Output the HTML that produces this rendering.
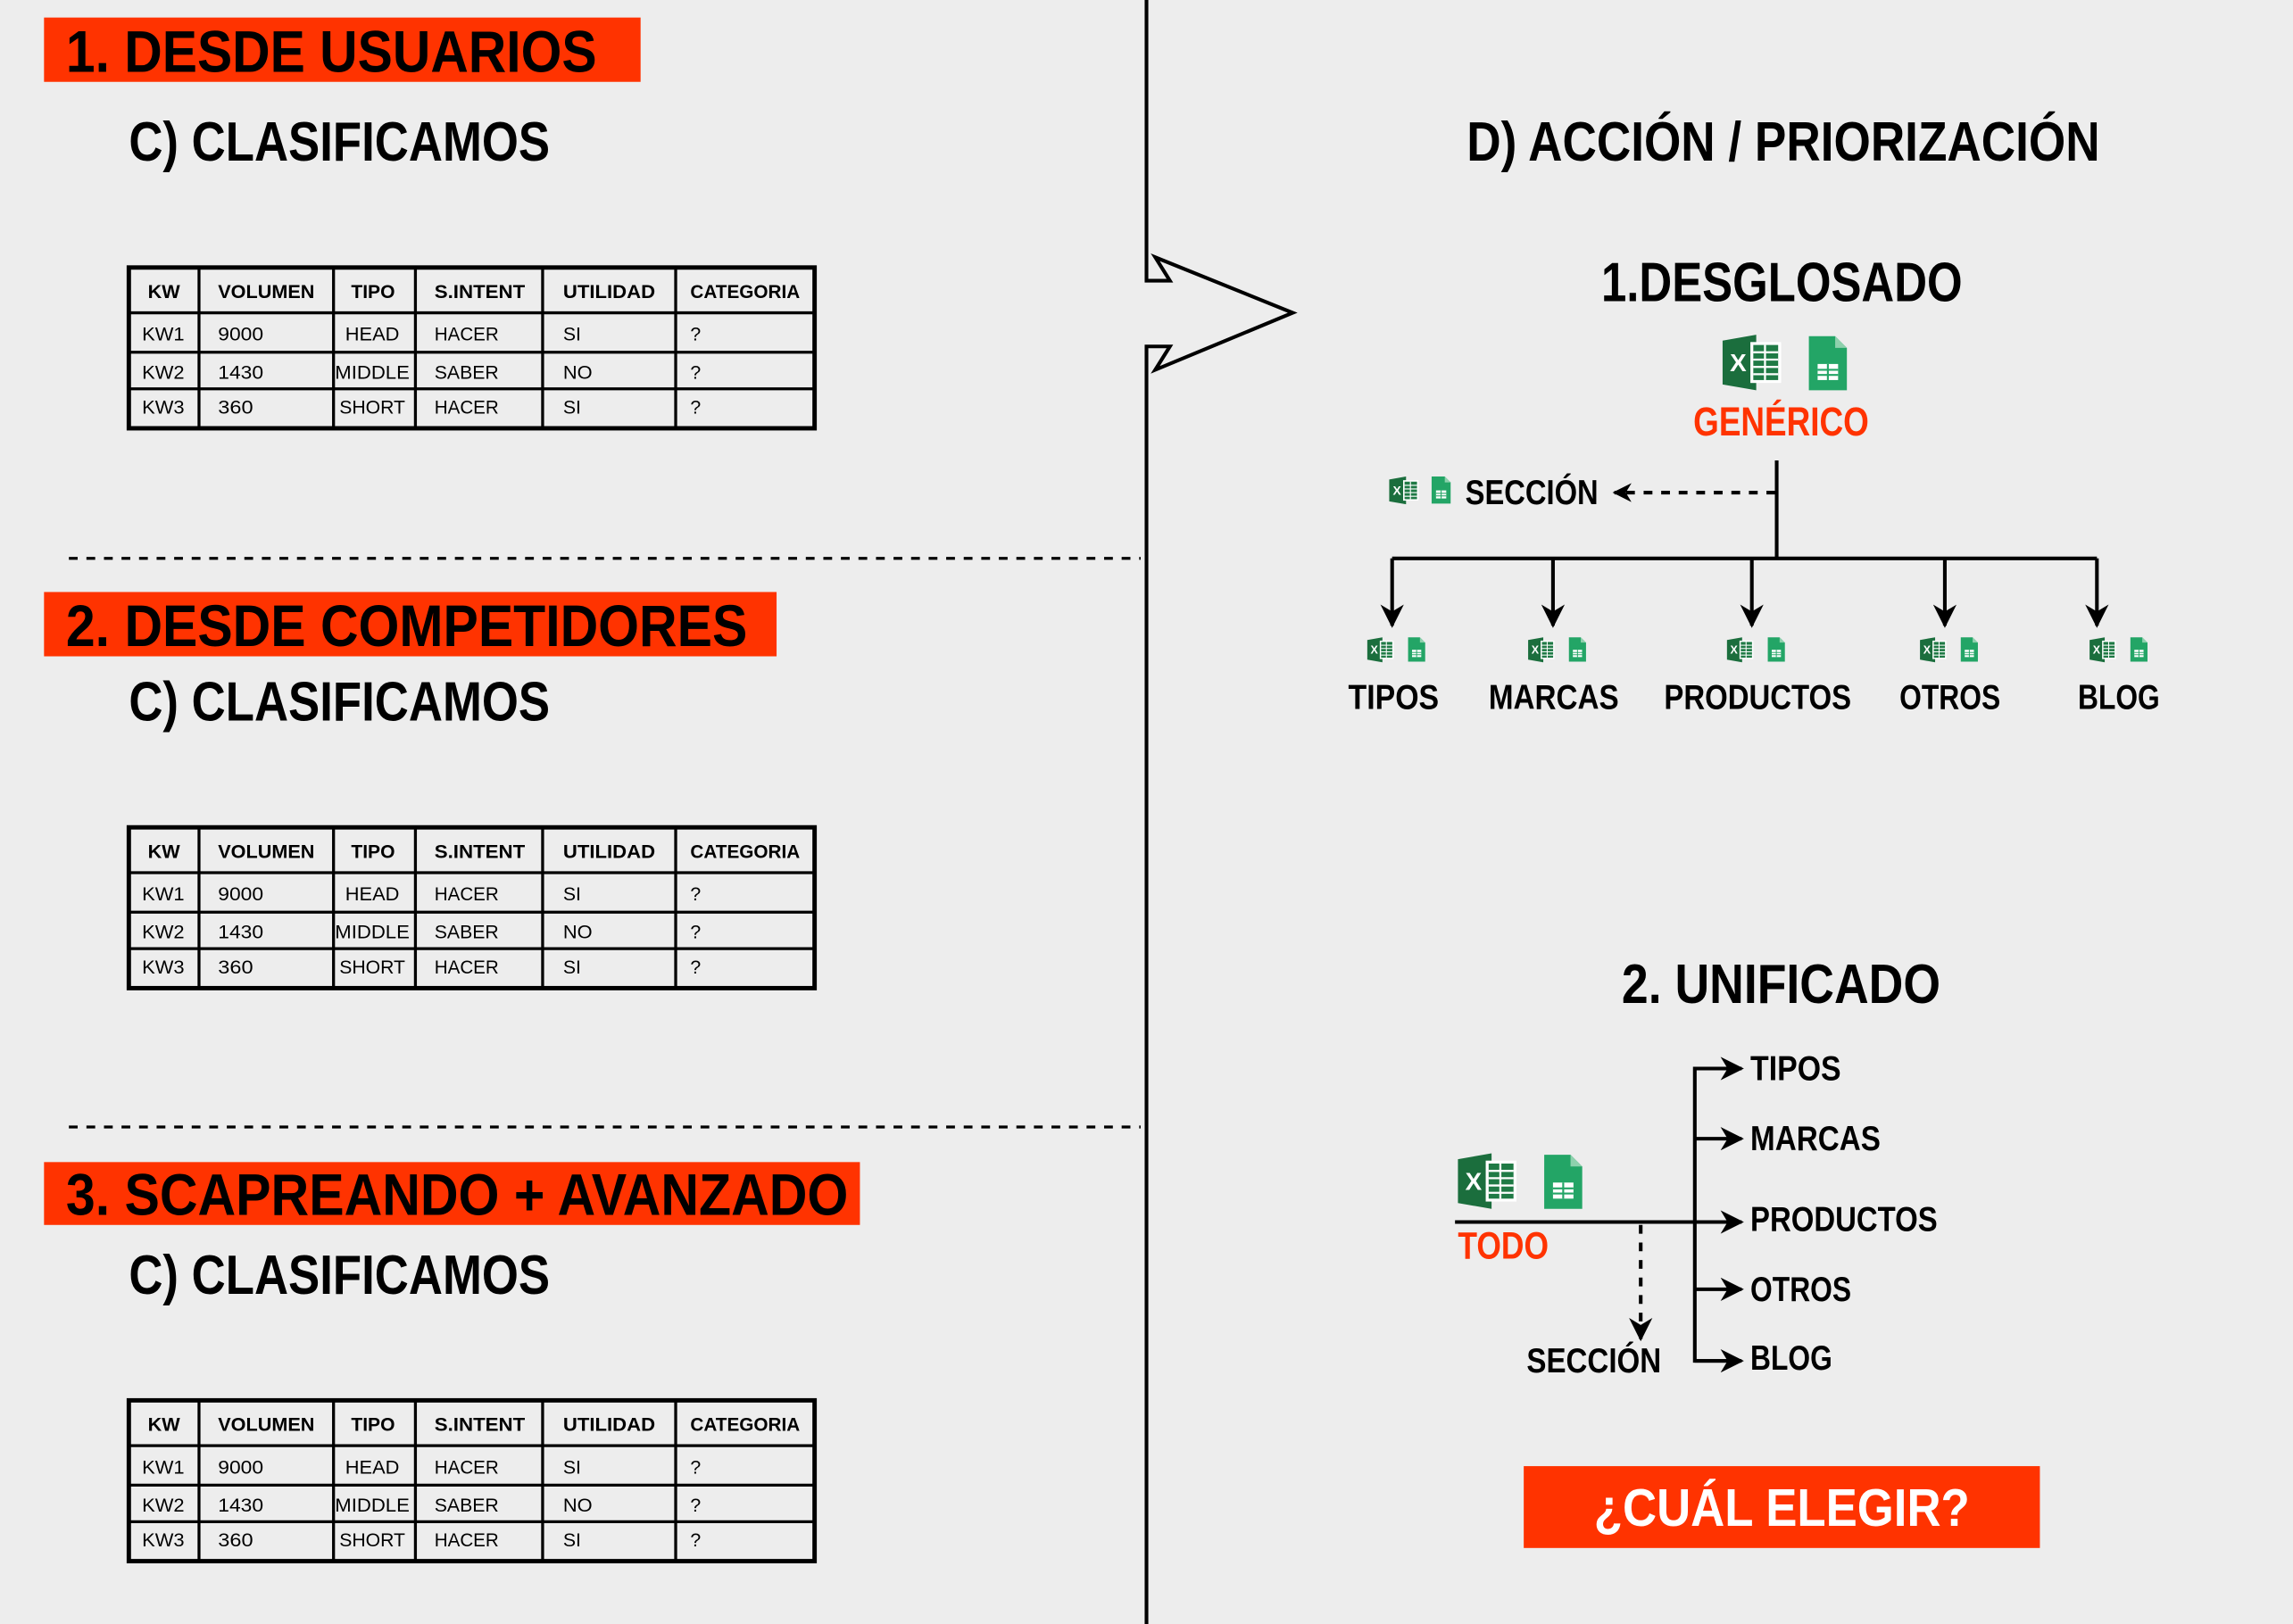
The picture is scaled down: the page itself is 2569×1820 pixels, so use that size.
<!DOCTYPE html>
<html><head><meta charset="utf-8">
<style>
html,body{margin:0;padding:0;background:#ededed;}
svg{display:block;}
text{font-family:"Liberation Sans Narrow","Liberation Sans",sans-serif;}
.b{font-weight:bold;}
</style></head>
<body>
<svg width="2569" height="1820" viewBox="0 0 1568 1111" xmlns="http://www.w3.org/2000/svg">
<defs>
<g id="xl">
<polygon points="0,4 23,0 23,38 0,34" fill="#1b6e3d"/>
<rect x="19" y="5" width="21" height="28" fill="#fff"/>
<rect x="21" y="7" width="17" height="24" fill="#1f7a45"/>
<g stroke="#fff" stroke-width="1.4"><line x1="21" y1="12" x2="38" y2="12"/><line x1="21" y1="17" x2="38" y2="17"/><line x1="21" y1="22" x2="38" y2="22"/><line x1="21" y1="27" x2="38" y2="27"/><line x1="29" y1="7" x2="29" y2="31"/></g>
<text x="5" y="25" font-size="17" fill="#fff" class="b">X</text>
</g>
<g id="gs">
<path d="M0,0H18L26,8V37H0Z" fill="#23a566"/>
<path d="M18,0V8H26Z" fill="#8ed1ad"/>
<rect x="6" y="19" width="14" height="11" fill="#fff"/>
<g stroke="#23a566" stroke-width="1.3"><line x1="6" y1="23" x2="20" y2="23"/><line x1="6" y1="26.5" x2="20" y2="26.5"/><line x1="13" y1="19" x2="13" y2="30"/></g>
</g>
<marker id="ah" viewBox="0 0 10 10" refX="9" refY="5" markerWidth="13" markerHeight="13" orient="auto" markerUnits="userSpaceOnUse"><path d="M0,0L10,5L0,10L3,5Z" fill="#000"/></marker>
<marker id="ah2" viewBox="0 0 10 10" refX="9" refY="5" markerWidth="16" markerHeight="16" orient="auto" markerUnits="userSpaceOnUse"><path d="M0,0L10,5L0,10L3,5Z" fill="#000"/></marker>
<g id="tbl">
<rect x="88" y="183" width="469" height="110" fill="none" stroke="#000" stroke-width="3"/>
<g stroke="#000" stroke-width="2"><line x1="88" y1="214" x2="557" y2="214"/><line x1="88" y1="241" x2="557" y2="241"/><line x1="88" y1="266" x2="557" y2="266"/>
<line x1="136" y1="183" x2="136" y2="293"/><line x1="228" y1="183" x2="228" y2="293"/><line x1="284" y1="183" x2="284" y2="293"/><line x1="371" y1="183" x2="371" y2="293"/><line x1="462" y1="183" x2="462" y2="293"/></g>
</g>
</defs>
<rect width="1568" height="1111" fill="#ededed"/>

<path d="M784,0V192H800L790,176L884,214L790,253L800,237H784V1111" fill="none" stroke="#000" stroke-width="2.5"/>

<!-- Section 1 -->
<rect x="30" y="12" width="408" height="44" fill="#ff3300"/>
<text x="45" y="49" font-size="40" class="b" textLength="363" lengthAdjust="spacingAndGlyphs">1. DESDE USUARIOS</text>
<text x="88" y="110" font-size="38" class="b" textLength="288" lengthAdjust="spacingAndGlyphs">C) CLASIFICAMOS</text>

<use href="#tbl"/>
<g font-size="13" class="b"><text x="101" y="204" textLength="22" lengthAdjust="spacingAndGlyphs">KW</text><text x="149" y="204" textLength="66" lengthAdjust="spacingAndGlyphs">VOLUMEN</text><text x="240" y="204" textLength="30" lengthAdjust="spacingAndGlyphs">TIPO</text><text x="297" y="204" textLength="62" lengthAdjust="spacingAndGlyphs">S.INTENT</text><text x="385" y="204" textLength="63" lengthAdjust="spacingAndGlyphs">UTILIDAD</text><text x="472" y="204" textLength="75" lengthAdjust="spacingAndGlyphs">CATEGORIA</text></g>
<g font-size="13"><text x="97" y="233" textLength="29" lengthAdjust="spacingAndGlyphs">KW1</text><text x="149" y="233" textLength="31" lengthAdjust="spacingAndGlyphs">9000</text><text x="236" y="233" textLength="37" lengthAdjust="spacingAndGlyphs">HEAD</text><text x="297" y="233" textLength="44" lengthAdjust="spacingAndGlyphs">HACER</text><text x="385" y="233">SI</text><text x="472" y="233">?</text>
<text x="97" y="259" textLength="29" lengthAdjust="spacingAndGlyphs">KW2</text><text x="149" y="259" textLength="31" lengthAdjust="spacingAndGlyphs">1430</text><text x="229" y="259" textLength="51" lengthAdjust="spacingAndGlyphs">MIDDLE</text><text x="297" y="259" textLength="44" lengthAdjust="spacingAndGlyphs">SABER</text><text x="385" y="259" textLength="20" lengthAdjust="spacingAndGlyphs">NO</text><text x="472" y="259">?</text>
<text x="97" y="283" textLength="29" lengthAdjust="spacingAndGlyphs">KW3</text><text x="149" y="283" textLength="24" lengthAdjust="spacingAndGlyphs">360</text><text x="232" y="283" textLength="45" lengthAdjust="spacingAndGlyphs">SHORT</text><text x="297" y="283" textLength="44" lengthAdjust="spacingAndGlyphs">HACER</text><text x="385" y="283">SI</text><text x="472" y="283">?</text></g>

<line x1="47" y1="382" x2="780" y2="382" stroke="#000" stroke-width="2" stroke-dasharray="6,6"/>

<!-- Section 2 -->
<rect x="30" y="405" width="501" height="44" fill="#ff3300"/>
<text x="45" y="442" font-size="40" class="b" textLength="466" lengthAdjust="spacingAndGlyphs">2. DESDE COMPETIDORES</text>
<text x="88" y="493" font-size="38" class="b" textLength="288" lengthAdjust="spacingAndGlyphs">C) CLASIFICAMOS</text>

<g transform="translate(0,383)">
<use href="#tbl"/>
<g font-size="13" class="b"><text x="101" y="204" textLength="22" lengthAdjust="spacingAndGlyphs">KW</text><text x="149" y="204" textLength="66" lengthAdjust="spacingAndGlyphs">VOLUMEN</text><text x="240" y="204" textLength="30" lengthAdjust="spacingAndGlyphs">TIPO</text><text x="297" y="204" textLength="62" lengthAdjust="spacingAndGlyphs">S.INTENT</text><text x="385" y="204" textLength="63" lengthAdjust="spacingAndGlyphs">UTILIDAD</text><text x="472" y="204" textLength="75" lengthAdjust="spacingAndGlyphs">CATEGORIA</text></g>
<g font-size="13"><text x="97" y="233" textLength="29" lengthAdjust="spacingAndGlyphs">KW1</text><text x="149" y="233" textLength="31" lengthAdjust="spacingAndGlyphs">9000</text><text x="236" y="233" textLength="37" lengthAdjust="spacingAndGlyphs">HEAD</text><text x="297" y="233" textLength="44" lengthAdjust="spacingAndGlyphs">HACER</text><text x="385" y="233">SI</text><text x="472" y="233">?</text>
<text x="97" y="259" textLength="29" lengthAdjust="spacingAndGlyphs">KW2</text><text x="149" y="259" textLength="31" lengthAdjust="spacingAndGlyphs">1430</text><text x="229" y="259" textLength="51" lengthAdjust="spacingAndGlyphs">MIDDLE</text><text x="297" y="259" textLength="44" lengthAdjust="spacingAndGlyphs">SABER</text><text x="385" y="259" textLength="20" lengthAdjust="spacingAndGlyphs">NO</text><text x="472" y="259">?</text>
<text x="97" y="283" textLength="29" lengthAdjust="spacingAndGlyphs">KW3</text><text x="149" y="283" textLength="24" lengthAdjust="spacingAndGlyphs">360</text><text x="232" y="283" textLength="45" lengthAdjust="spacingAndGlyphs">SHORT</text><text x="297" y="283" textLength="44" lengthAdjust="spacingAndGlyphs">HACER</text><text x="385" y="283">SI</text><text x="472" y="283">?</text></g>
</g>

<line x1="47" y1="771" x2="780" y2="771" stroke="#000" stroke-width="2" stroke-dasharray="6,6"/>

<!-- Section 3 -->
<rect x="30" y="795" width="558" height="43" fill="#ff3300"/>
<text x="45" y="831" font-size="40" class="b" textLength="535" lengthAdjust="spacingAndGlyphs">3. SCAPREANDO + AVANZADO</text>
<text x="88" y="885" font-size="38" class="b" textLength="288" lengthAdjust="spacingAndGlyphs">C) CLASIFICAMOS</text>

<g transform="translate(0,775)">
<use href="#tbl"/>
<g font-size="13" class="b"><text x="101" y="204" textLength="22" lengthAdjust="spacingAndGlyphs">KW</text><text x="149" y="204" textLength="66" lengthAdjust="spacingAndGlyphs">VOLUMEN</text><text x="240" y="204" textLength="30" lengthAdjust="spacingAndGlyphs">TIPO</text><text x="297" y="204" textLength="62" lengthAdjust="spacingAndGlyphs">S.INTENT</text><text x="385" y="204" textLength="63" lengthAdjust="spacingAndGlyphs">UTILIDAD</text><text x="472" y="204" textLength="75" lengthAdjust="spacingAndGlyphs">CATEGORIA</text></g>
<g font-size="13"><text x="97" y="233" textLength="29" lengthAdjust="spacingAndGlyphs">KW1</text><text x="149" y="233" textLength="31" lengthAdjust="spacingAndGlyphs">9000</text><text x="236" y="233" textLength="37" lengthAdjust="spacingAndGlyphs">HEAD</text><text x="297" y="233" textLength="44" lengthAdjust="spacingAndGlyphs">HACER</text><text x="385" y="233">SI</text><text x="472" y="233">?</text>
<text x="97" y="259" textLength="29" lengthAdjust="spacingAndGlyphs">KW2</text><text x="149" y="259" textLength="31" lengthAdjust="spacingAndGlyphs">1430</text><text x="229" y="259" textLength="51" lengthAdjust="spacingAndGlyphs">MIDDLE</text><text x="297" y="259" textLength="44" lengthAdjust="spacingAndGlyphs">SABER</text><text x="385" y="259" textLength="20" lengthAdjust="spacingAndGlyphs">NO</text><text x="472" y="259">?</text>
<text x="97" y="283" textLength="29" lengthAdjust="spacingAndGlyphs">KW3</text><text x="149" y="283" textLength="24" lengthAdjust="spacingAndGlyphs">360</text><text x="232" y="283" textLength="45" lengthAdjust="spacingAndGlyphs">SHORT</text><text x="297" y="283" textLength="44" lengthAdjust="spacingAndGlyphs">HACER</text><text x="385" y="283">SI</text><text x="472" y="283">?</text></g>
</g>

<!-- Right side -->
<text x="1003" y="110" font-size="38" class="b" textLength="433" lengthAdjust="spacingAndGlyphs">D) ACCIÓN / PRIORIZACIÓN</text>
<text x="1095" y="206" font-size="38" class="b" textLength="247" lengthAdjust="spacingAndGlyphs">1.DESGLOSADO</text>
<use href="#xl" x="1178" y="229"/>
<use href="#gs" x="1237" y="230"/>
<text x="1158" y="298" font-size="28" class="b" fill="#ff3300" textLength="120" lengthAdjust="spacingAndGlyphs">GENÉRICO</text>

<line x1="1215" y1="315" x2="1215" y2="382" stroke="#000" stroke-width="2.5"/>
<line x1="1214" y1="337" x2="1104" y2="337" stroke="#000" stroke-width="2.5" stroke-dasharray="6,6" marker-end="url(#ah)"/>
<g transform="translate(950,326) scale(0.5)"><use href="#xl"/><use href="#gs" x="58"/></g>
<text x="1002" y="345" font-size="24" class="b" textLength="91" lengthAdjust="spacingAndGlyphs">SECCIÓN</text>

<path d="M952,382H1434" stroke="#000" stroke-width="2.5" fill="none"/>
<g stroke="#000" stroke-width="2.5">
<line x1="952" y1="382" x2="952" y2="428" marker-end="url(#ah2)"/>
<line x1="1062" y1="382" x2="1062" y2="428" marker-end="url(#ah2)"/>
<line x1="1198" y1="382" x2="1198" y2="428" marker-end="url(#ah2)"/>
<line x1="1330" y1="382" x2="1330" y2="428" marker-end="url(#ah2)"/>
<line x1="1434" y1="382" x2="1434" y2="428" marker-end="url(#ah2)"/>
</g>
<g transform="translate(935,436) scale(0.45)"><use href="#xl"/><use href="#gs" x="62"/></g>
<g transform="translate(1045,436) scale(0.45)"><use href="#xl"/><use href="#gs" x="62"/></g>
<g transform="translate(1181,436) scale(0.45)"><use href="#xl"/><use href="#gs" x="62"/></g>
<g transform="translate(1313,436) scale(0.45)"><use href="#xl"/><use href="#gs" x="62"/></g>
<g transform="translate(1429,436) scale(0.45)"><use href="#xl"/><use href="#gs" x="62"/></g>
<g font-size="24" class="b">
<text x="922" y="485" textLength="62" lengthAdjust="spacingAndGlyphs">TIPOS</text>
<text x="1018" y="485" textLength="89" lengthAdjust="spacingAndGlyphs">MARCAS</text>
<text x="1138" y="485" textLength="128" lengthAdjust="spacingAndGlyphs">PRODUCTOS</text>
<text x="1299" y="485" textLength="69" lengthAdjust="spacingAndGlyphs">OTROS</text>
<text x="1421" y="485" textLength="56" lengthAdjust="spacingAndGlyphs">BLOG</text>
</g>

<text x="1109" y="686" font-size="38" class="b" textLength="218" lengthAdjust="spacingAndGlyphs">2. UNIFICADO</text>

<path d="M1190,731H1159V931H1190" stroke="#000" stroke-width="2.5" fill="none"/>
<g stroke="#000" stroke-width="2.5">
<line x1="1159" y1="731" x2="1191" y2="731" marker-end="url(#ah2)"/>
<line x1="1159" y1="779" x2="1191" y2="779" marker-end="url(#ah2)"/>
<line x1="995" y1="836" x2="1191" y2="836" marker-end="url(#ah2)"/>
<line x1="1159" y1="882" x2="1191" y2="882" marker-end="url(#ah2)"/>
<line x1="1159" y1="931" x2="1191" y2="931" marker-end="url(#ah2)"/>
<line x1="1122" y1="838" x2="1122" y2="916" stroke-dasharray="6,6" marker-end="url(#ah2)"/>
</g>
<g font-size="24" class="b">
<text x="1197" y="739" textLength="62" lengthAdjust="spacingAndGlyphs">TIPOS</text>
<text x="1197" y="787" textLength="89" lengthAdjust="spacingAndGlyphs">MARCAS</text>
<text x="1197" y="842" textLength="128" lengthAdjust="spacingAndGlyphs">PRODUCTOS</text>
<text x="1197" y="890" textLength="69" lengthAdjust="spacingAndGlyphs">OTROS</text>
<text x="1197" y="937" textLength="56" lengthAdjust="spacingAndGlyphs">BLOG</text>
<text x="1044" y="939" textLength="92" lengthAdjust="spacingAndGlyphs">SECCIÓN</text>
</g>
<use href="#xl" x="997" y="789"/>
<use href="#gs" x="1056" y="790"/>
<text x="997" y="861" font-size="26" class="b" fill="#ff3300" textLength="62" lengthAdjust="spacingAndGlyphs">TODO</text>

<rect x="1042" y="1003" width="353" height="56" fill="#ff3300"/>
<text x="1090" y="1044" font-size="36" class="b" fill="#fff" textLength="257" lengthAdjust="spacingAndGlyphs">¿CUÁL ELEGIR?</text>
</svg>
</body></html>
